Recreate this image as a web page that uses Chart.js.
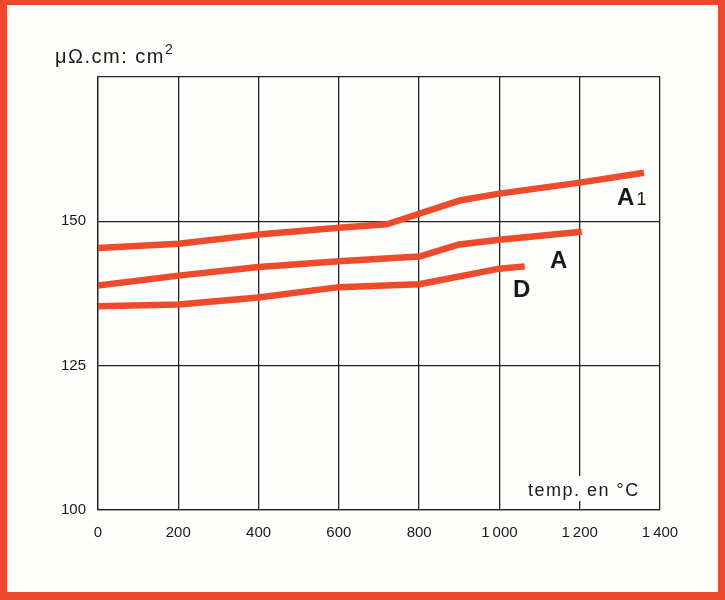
<!DOCTYPE html>
<html>
<head>
<meta charset="utf-8">
<script src="https://cdn.jsdelivr.net/npm/chart.js@4"></script>
<style>
  html, body { margin: 0; padding: 0; background: #fff; }
  canvas { display: block; }
</style>
</head>
<body>
<canvas id="resChart" width="725" height="600"></canvas>
<script>
// temperature (°C) and resistivity values
const a1Temp = [0, 200, 400, 600, 720, 900, 1000, 1200, 1360];
const a1Val = [145.4, 146.1, 147.7, 148.9, 149.5, 153.6, 154.8, 156.7, 158.4];
const aTemp = [0, 200, 400, 600, 800, 900, 1000, 1205];
const aVal = [138.9, 140.6, 142.1, 143.1, 143.9, 146.0, 146.8, 148.2];
const dTemp = [0, 200, 400, 600, 800, 1000, 1063];
const dVal = [135.3, 135.6, 136.8, 138.6, 139.1, 141.8, 142.2];

const xTicks = [0, 200, 400, 600, 800, 1000, 1200, 1400];
const yTicks = [100, 125, 150, 175];
const yLabels = ['100', '125', '150', ''];

// curve name labels, placed in data coordinates
const curveNames = [
    { main: 'A', sub: '1', x: 1293, y: 152.8 },
    { main: 'A', sub: '', x: 1126, y: 142.0 },
    { main: 'D', sub: '', x: 1034, y: 136.9 }
];

const RED = '#ee4b2d';
const GRID = '#222222';

function pts(xs, ys) {
    return xs.map((x, i) => ({ x: x, y: ys[i] }));
}

const extras = {
    id: 'extras',
    beforeDraw(chart) {
        const ctx = chart.ctx;
        ctx.save();
        ctx.fillStyle = '#fefefc';
        ctx.fillRect(0, 0, chart.width, chart.height);
        ctx.restore();
    },
    afterDraw(chart) {
        const ctx = chart.ctx;
        const xs = chart.scales.x, ys = chart.scales.y;
        ctx.save();

        // frame
        ctx.fillStyle = '#ea4a2c';
        ctx.fillRect(0, 0, 725, 5);
        ctx.fillRect(0, 0, 7, 600);
        ctx.fillRect(718, 0, 7, 600);
        ctx.fillRect(0, 592, 725, 8);

        // unit title
        ctx.fillStyle = '#1a1a1a';
        ctx.textBaseline = 'alphabetic';
        ctx.textAlign = 'left';
        ctx.font = '20px "Liberation Sans", Arial, sans-serif';
        ctx.letterSpacing = '1.5px';
        const t = 'μΩ.cm: cm';
        ctx.fillText(t, 55, 63);
        const w = ctx.measureText(t).width;
        ctx.font = '14px "Liberation Sans", Arial, sans-serif';
        ctx.fillText('2', 55 + w, 54);
        ctx.letterSpacing = '0px';

        // axis caption with white box over the grid
        ctx.fillStyle = '#fefefc';
        ctx.fillRect(522, 476, 134, 25);
        ctx.fillStyle = '#1a1a1a';
        ctx.font = '18px "Liberation Sans", Arial, sans-serif';
        ctx.letterSpacing = '1.5px';
        ctx.fillText('temp. en °C', 528, 496);
        ctx.letterSpacing = '0px';

        // curve names
        curveNames.forEach(c => {
            const px = xs.getPixelForValue(c.x);
            const py = ys.getPixelForValue(c.y);
            ctx.font = 'bold 24px "Liberation Sans", Arial, sans-serif';
            ctx.fillText(c.main, px, py);
            if (c.sub) {
                const mw = ctx.measureText(c.main).width;
                ctx.font = '18px "Liberation Sans", Arial, sans-serif';
                ctx.fillText(c.sub, px + mw + 2, py);
            }
        });
        ctx.restore();
    }
};

const ctx = document.getElementById('resChart').getContext('2d');
new Chart(ctx, {
    type: 'line',
    data: {
        datasets: [
            { label: 'A1', data: pts(a1Temp, a1Val) },
            { label: 'A', data: pts(aTemp, aVal) },
            { label: 'D', data: pts(dTemp, dVal) }
        ].map(d => Object.assign(d, {
            borderColor: RED,
            borderWidth: 6.5,
            pointRadius: 0,
            tension: 0,
            fill: false,
            borderCapStyle: 'butt',
            borderJoinStyle: 'round'
        }))
    },
    options: {
        responsive: false,
        animation: false,
        layout: { padding: { left: 0, top: 77, right: 65, bottom: 0 } },
        plugins: { legend: { display: false }, tooltip: { enabled: false } },
        scales: {
            x: {
                type: 'linear',
                min: 0,
                max: 1400,
                afterFit: s => { s.height = 90; },
                afterBuildTicks: s => { s.ticks = xTicks.map(v => ({ value: v })); },
                grid: { color: GRID, lineWidth: 1.3, drawTicks: false },
                border: { color: GRID, width: 1.3 },
                ticks: {
                    padding: 14,
                    color: '#1a1a1a',
                    font: { family: '"Liberation Sans", Arial, sans-serif', size: 15 },
                    maxRotation: 0,
                    callback: v => v >= 1000 ? '1\u2009' + String(v).slice(1) : String(v)
                }
            },
            y: {
                type: 'linear',
                min: 100,
                max: 175,
                afterFit: s => { s.width = 98; },
                afterBuildTicks: s => { s.ticks = yTicks.map(v => ({ value: v })); },
                grid: { color: GRID, lineWidth: 1.3, drawTicks: false },
                border: { color: GRID, width: 1.3 },
                ticks: {
                    padding: 12,
                    color: '#1a1a1a',
                    font: { family: '"Liberation Sans", Arial, sans-serif', size: 15 },
                    callback: v => yLabels[yTicks.indexOf(v)]
                }
            }
        }
    },
    plugins: [extras]
});
</script>
</body>
</html>
